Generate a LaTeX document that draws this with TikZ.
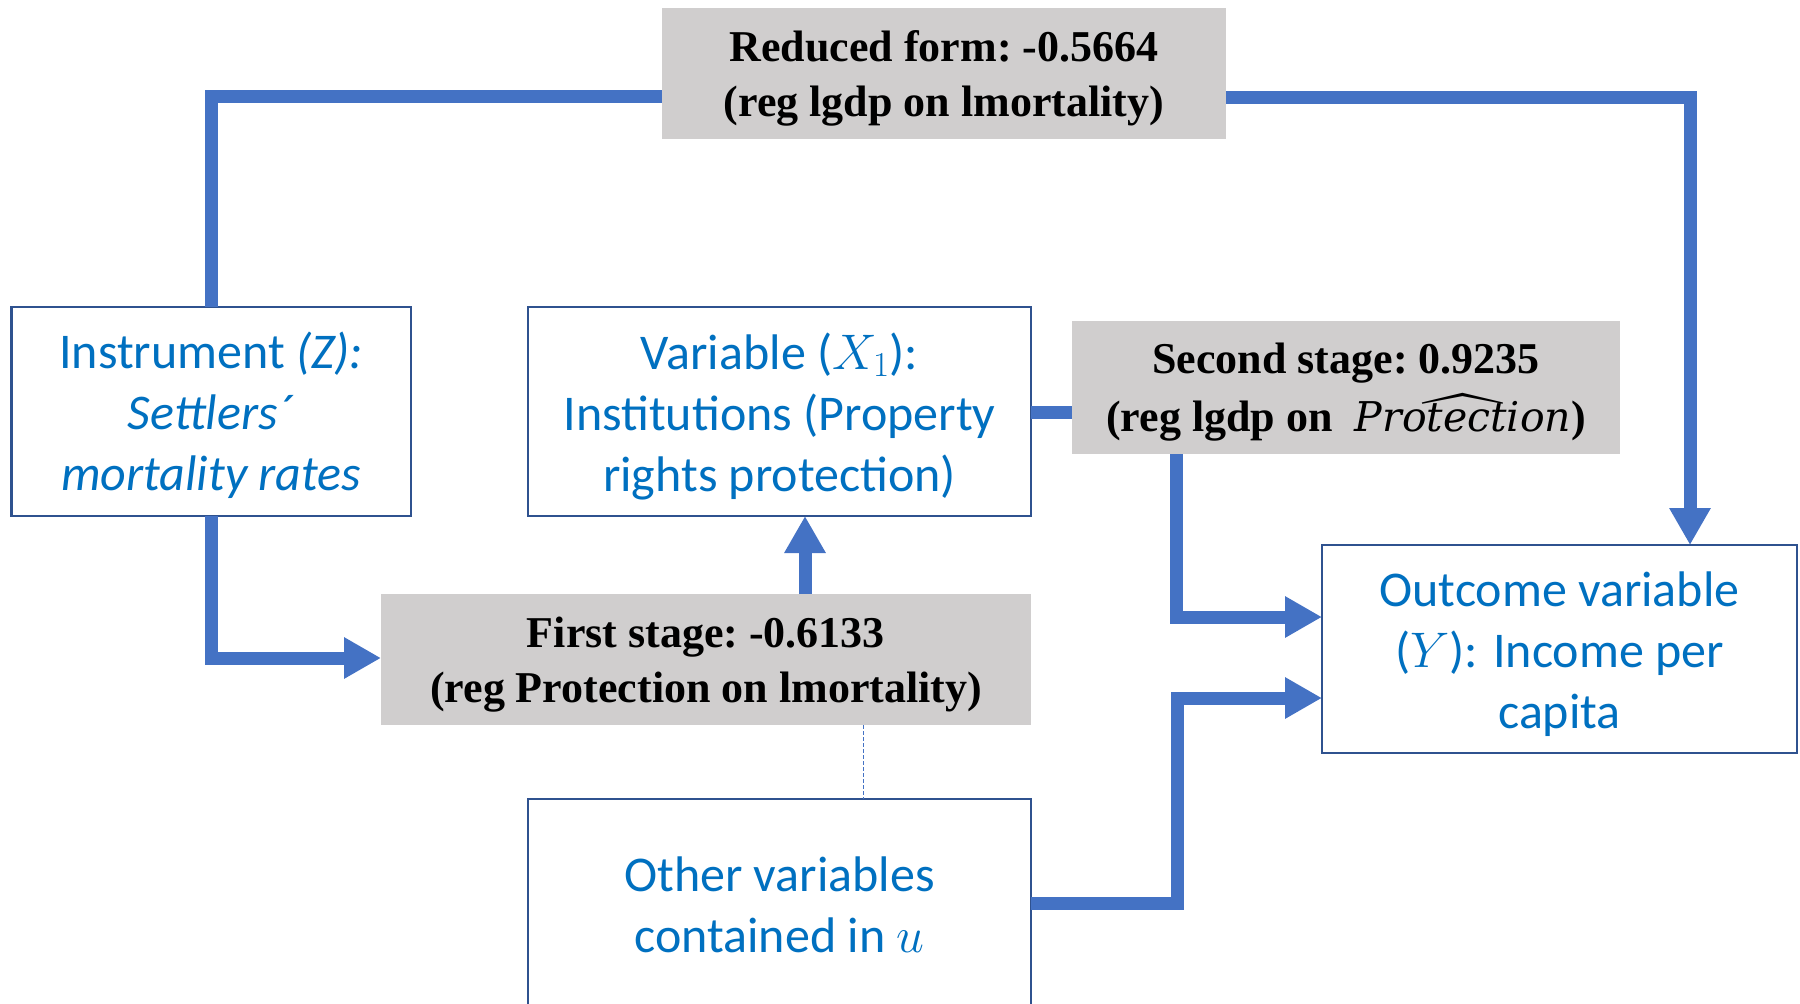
\RequirePackage{fix-cm}
\documentclass[tikz,border=0pt]{standalone}
\DeclareFontShape{OMX}{cmex}{m}{n}{<->cmex10}{}
\usepackage{fontspec}
\setmainfont{Liberation Serif}
\newfontfamily\carlito{Carlito}
\newfontfamily\protfont{DejaVu Serif}
\usetikzlibrary{arrows.meta}
\definecolor{txtblue}{RGB}{0,112,192}
\definecolor{boxblue}{RGB}{47,82,143}
\definecolor{linkblue}{RGB}{68,114,196}
\definecolor{graybox}{RGB}{208,206,206}
\newcommand{\protword}{\protfont\mdseries\itshape\fontsize{41}{55}\selectfont Protection}
\begin{document}
\begin{tikzpicture}[x=1pt,y=-1pt,
  varbox/.style={draw=boxblue, line width=2.5pt, fill=white, inner sep=0pt, outer sep=0pt},
  vartext/.style={text=txtblue, align=center, inner sep=0pt,
    font=\carlito\fontsize{50}{61}\selectfont},
  regbox/.style={fill=graybox, inner sep=0pt, outer sep=0pt},
  regtext/.style={text=black, align=center, inner sep=0pt,
    font=\frenchspacing\bfseries\fontsize{44}{55}\selectfont},
  link/.style={draw=linkblue, line width=13pt},
  linkarrow/.style={link, -{Triangle[length=37pt,width=39pt]}},
  faint/.style={draw=linkblue, line width=1pt, dash pattern=on 4pt off 2pt}]
\useasboundingbox (0,0) rectangle (1800,1004);

% boxes
\node[regbox, minimum width=564pt, minimum height=131pt] (red) at (944,73.5) {};
\node[varbox, minimum width=399.5pt, minimum height=209pt] (inst) at (211.25,411.5) {};
\node[varbox, minimum width=503pt, minimum height=209pt] (var) at (779.5,411.5) {};
\node[regbox, minimum width=548pt, minimum height=133pt] (second) at (1346,387.5) {};
\node[regbox, minimum width=650pt, minimum height=131pt] (first) at (706,659.5) {};
\node[varbox, minimum width=475pt, minimum height=208pt] (outc) at (1559.5,649) {};
\node[varbox, minimum width=503pt, minimum height=212pt] (other) at (779.5,905) {};

% texts
\node[regtext] (red-t) at ([yshift=-5]red.center)
  {Reduced form: -0.5664\\(reg lgdp on lmortality)};
\node[vartext] (inst-t) at ([yshift=-4]inst.center)
  {Instrument \textit{(Z):}\\ \textit{Settlers´}\\ \textit{mortality rates}};
\node[vartext] (var-t) at ([yshift=-5]var.center)
  {Variable ($X_1$):\\ Institutions (Property\\ rights protection)};
\node[regtext] (second-t) at ([yshift=-5]second.center)
  {Second stage: 0.9235\\[3pt](reg lgdp on\ \ {\fontsize{56}{55}\selectfont\smash{\raisebox{-5pt}{$\widehat{\raisebox{5pt}[24pt][0pt]{\protword}}$}}})};
\node[regtext] (first-t) at ([yshift=-5]first.center)
  {First stage: -0.6133\\(reg Protection on lmortality)};
\node[vartext] (outc-t) at ([yshift=-5]outc.center)
  {Outcome variable\\ ($Y$): Income per\\ capita};
\node[vartext] (other-t) at (other.center)
  {Other variables\\ contained in $u$};

\coordinate (bend) at (1177,698);

% connectors
\draw[link] (inst.north) |- (red.west |- 0,96);
\draw[linkarrow] (red.east |- 0,97) -| (outc.north -| 1690,0);
\draw[linkarrow] (inst.south) |- (first.west |- 0,658);
\draw[linkarrow] (first.north -| 805,0) -- (var.south -| 805,0);
\draw[link] (var.east |- 0,412) -- (second.west |- 0,412);
\draw[linkarrow] (second.south -| 1176,0) |- (outc.west |- 0,617);
\draw[linkarrow] (other.east |- 0,903) -| (bend) -- (outc.west |- bend);
\draw[faint] (first.south -| 863,0) -- (other.north -| 863,0);
\end{tikzpicture}
\end{document}
